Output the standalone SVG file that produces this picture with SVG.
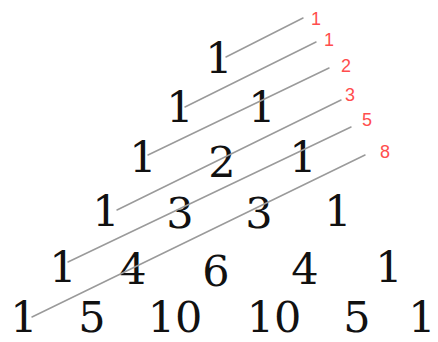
<svg xmlns="http://www.w3.org/2000/svg" width="438" height="342" viewBox="0 0 438 342">
<style>
.n{font-family:"DejaVu Serif","Liberation Serif",serif;font-size:43px;fill:#111;text-anchor:middle}
.f{font-family:"Liberation Sans",Arial,sans-serif;font-size:18px;fill:#ff4d4d;text-anchor:middle}
.c line{stroke:#9a9a9a;stroke-width:1.5;stroke-linecap:round}
</style>
<rect width="438" height="342" fill="#fff"/>
<g id="row0"><text class="n" x="219" y="73">1</text></g>
<g id="row1"><text class="n" x="180" y="122">1</text><text class="n" x="262" y="122">1</text></g>
<g id="row2"><text class="n" x="143" y="172">1</text><text class="n" x="222" y="177">2</text><text class="n" x="303" y="172">1</text></g>
<g id="row3"><text class="n" x="106" y="226">1</text><text class="n" x="180" y="228">3</text><text class="n" x="259" y="228">3</text><text class="n" x="338" y="226">1</text></g>
<g id="row4"><text class="n" x="63" y="282">1</text><text class="n" x="133" y="284">4</text><text class="n" x="216" y="286">6</text><text class="n" x="305" y="284">4</text><text class="n" x="389" y="282">1</text></g>
<g id="row5"><text class="n" x="24" y="332">1</text><text class="n" x="92" y="332">5</text><text class="n" x="175" y="332">10</text><text class="n" x="274" y="332">10</text><text class="n" x="357" y="332">5</text><text class="n" x="422" y="332">1</text></g>
<g id="connectors" class="c">
<line x1="226" y1="57" x2="303" y2="18"/>
<line x1="185" y1="107" x2="316" y2="42"/>
<line x1="148" y1="155" x2="329" y2="68"/>
<line x1="117" y1="210" x2="341" y2="100"/>
<line x1="68" y1="262" x2="351" y2="127"/>
<line x1="32" y1="317" x2="365" y2="155"/>
</g>
<g id="fib">
<text class="f" x="316" y="25">1</text>
<text class="f" x="329" y="46">1</text>
<text class="f" x="346" y="72">2</text>
<text class="f" x="350" y="101">3</text>
<text class="f" x="367" y="126">5</text>
<text class="f" x="385" y="158">8</text>
</g>
</svg>
